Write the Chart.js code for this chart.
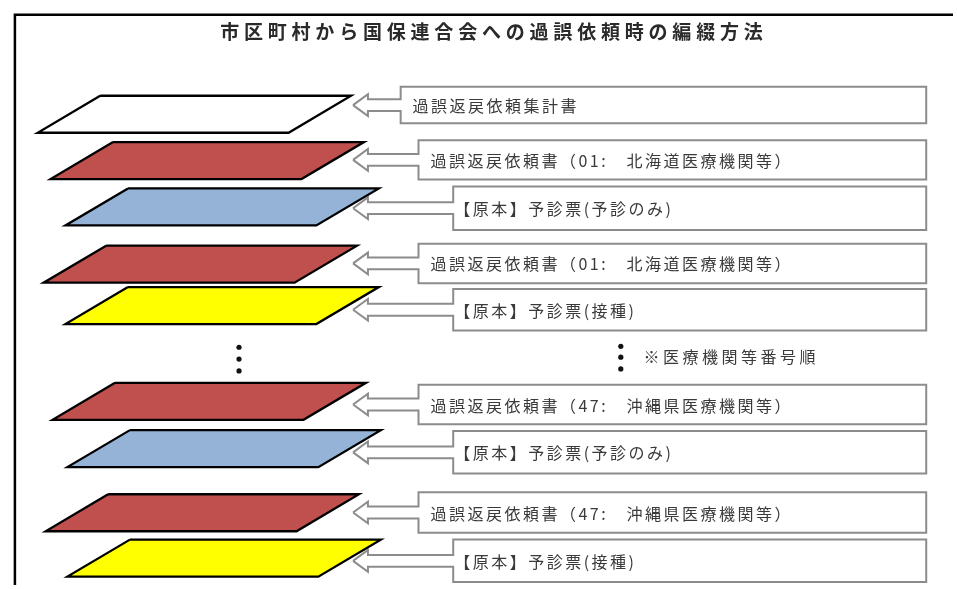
<!DOCTYPE html>
<html>
<head>
<meta charset="utf-8">
<script src="https://cdn.jsdelivr.net/npm/chart.js@4.4.1/dist/chart.umd.min.js"></script>
<style>
    html, body { margin: 0; padding: 0; background: #fff; }
    #wrap { width: 957px; height: 589px; }
</style>
</head>
<body>
<div id="wrap"><canvas id="myChart"></canvas></div>
<script>
// values (page units = pixels of the original)
const chartTitle = "市区町村から国保連合会への過誤依頼時の編綴方法"
const noteLabel = "※医療機関等番号順"
const sheetLabels = [
    "過誤返戻依頼集計書",
    "過誤返戻依頼書（01:　北海道医療機関等）",
    "【原本】予診票(予診のみ)",
    "過誤返戻依頼書（01:　北海道医療機関等）",
    "【原本】予診票(接種)",
    "過誤返戻依頼書（47:　沖縄県医療機関等）",
    "【原本】予診票(予診のみ)",
    "過誤返戻依頼書（47:　沖縄県医療機関等）",
    "【原本】予診票(接種)"
]
const sheetColors = ["#ffffff", "#c0504d", "#95b3d7", "#c0504d", "#ffff00", "#c0504d", "#95b3d7", "#c0504d", "#ffff00"]
const sheetTop = [93, 140, 187, 245, 287, 384, 432, 497, 543]
const sheetLeft = [97, 110, 125, 103, 125, 112, 127, 105, 127]
const boxLeft = [400, 418, 453, 418, 453, 418, 453, 418, 453]
const boxTop = [84, 138, 185, 243, 289, 386, 433, 495, 543]
const boxBottom = [121, 178, 229, 283, 331, 426, 476, 536, 586]
const dotsLeftY = [348, 360, 372]
const dotsRightY = [347, 358, 370]

const W = 957, H = 589
const SHEET_W = 253, SHEET_SKEW = 63, SHEET_H = 37.5
const BOX_RIGHT = 930
const ARROW_TIP = 352, HEAD_X = 367, HEAD_H = 11, SHAFT_H = 6
const FONT = "'Noto Sans CJK JP', 'Noto Sans', sans-serif"

let datasets = []

// outer frame
datasets.push({
    data: [{ x: W, y: 11 }, { x: 11, y: 11 }, { x: 11, y: H }],
    borderColor: "#000", borderWidth: 2.5, fill: false
})

for (let i = 0; i < sheetLabels.length; i++) {
    let l = sheetLeft[i], t = sheetTop[i]
    datasets.push({
        data: [
            { x: l, y: t }, { x: l + SHEET_W, y: t },
            { x: l + SHEET_W - SHEET_SKEW, y: t + SHEET_H }, { x: l - SHEET_SKEW, y: t + SHEET_H },
            { x: l, y: t }
        ],
        borderColor: "#000", borderWidth: 2.3, backgroundColor: sheetColors[i],
        fill: "shape", borderJoinStyle: "miter"
    })

    let bl = boxLeft[i], bt = boxTop[i], bb = boxBottom[i]
    let cy = (bt + bb) / 2
    datasets.push({
        data: [
            { x: ARROW_TIP, y: cy }, { x: HEAD_X, y: cy - HEAD_H }, { x: HEAD_X, y: cy - SHAFT_H },
            { x: bl, y: cy - SHAFT_H }, { x: bl, y: bt }, { x: BOX_RIGHT, y: bt },
            { x: BOX_RIGHT, y: bb }, { x: bl, y: bb }, { x: bl, y: cy + SHAFT_H },
            { x: HEAD_X, y: cy + SHAFT_H }, { x: HEAD_X, y: cy + HEAD_H }, { x: ARROW_TIP, y: cy }
        ],
        borderColor: "#8c8c8c", borderWidth: 2, backgroundColor: "#fff",
        fill: "shape", borderJoinStyle: "miter"
    })
}

// the "..." dots
datasets.push({
    data: dotsLeftY.map(v => ({ x: 237, y: v })).concat(dotsRightY.map(v => ({ x: 622, y: v }))),
    showLine: false, pointRadius: 2.6, pointBackgroundColor: "#111", pointBorderWidth: 0
})

const textPlugin = {
    id: "texts",
    afterDatasetsDraw(chart) {
        const ctx = chart.ctx
        const sx = chart.scales.x, sy = chart.scales.y
        ctx.save()
        ctx.textBaseline = "middle"

        ctx.fillStyle = "#2a2a2a"
        ctx.font = "bold 19px " + FONT
        ctx.letterSpacing = "4.8px"
        ctx.textAlign = "center"
        ctx.fillText(chartTitle, sx.getPixelForValue(494), sy.getPixelForValue(28))

        ctx.textAlign = "left"
        ctx.fillStyle = "#3a3a3a"
        ctx.font = "16px " + FONT
        ctx.letterSpacing = "2.5px"
        for (let i = 0; i < sheetLabels.length; i++) {
            let indent = sheetLabels[i].startsWith("【") ? 1 : 12
            ctx.fillText(sheetLabels[i], sx.getPixelForValue(boxLeft[i] + indent),
                sy.getPixelForValue((boxTop[i] + boxBottom[i]) / 2 + 1))
        }
        ctx.letterSpacing = "3.5px"
        ctx.fillText(noteLabel, sx.getPixelForValue(645), sy.getPixelForValue(358))
        ctx.restore()
    }
}

const ctx = document.getElementById("myChart")

new Chart(ctx, {
    type: "scatter",
    data: { datasets: datasets },
    options: {
        responsive: true,
        maintainAspectRatio: false,
        animation: false,
        events: [],
        layout: { padding: 0 },
        elements: {
            line: { tension: 0 },
            point: { radius: 0 }
        },
        datasets: { scatter: { showLine: true, clip: false } },
        scales: {
            x: { type: "linear", min: 0, max: W, display: false },
            y: { type: "linear", min: 0, max: H, reverse: true, display: false }
        },
        plugins: {
            legend: { display: false },
            tooltip: { enabled: false },
            title: { display: false }
        }
    },
    plugins: [textPlugin]
})
</script>
</body>
</html>
